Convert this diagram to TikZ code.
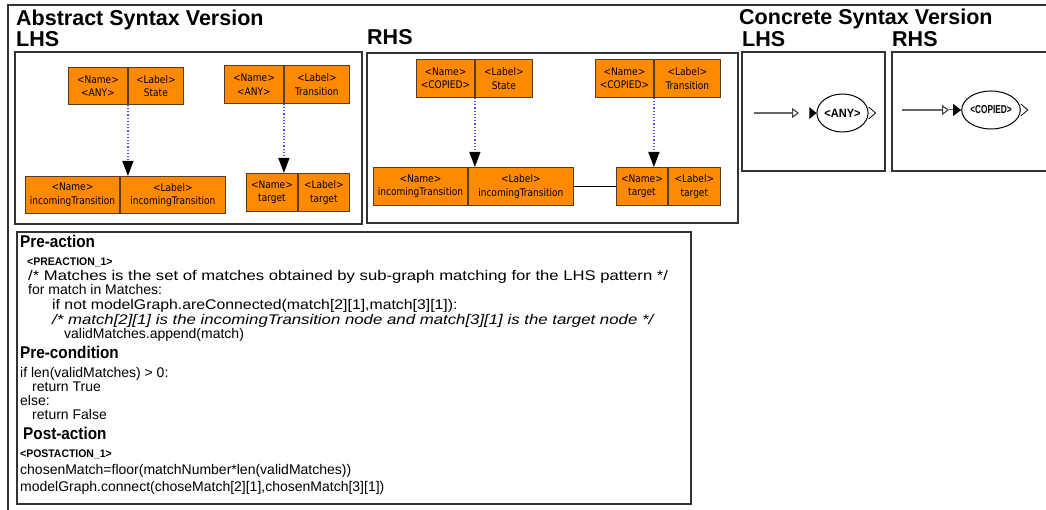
\documentclass[tikz,border=0pt]{standalone}
\usepackage{fontspec}
\setmainfont{Liberation Sans}
\newfontfamily\nodefont[FakeStretch=0.86]{DejaVu Sans}
\newfontfamily\narrowbold[FakeStretch=0.72]{Liberation Sans Bold}
\newfontfamily\anybold[FakeStretch=0.92]{Liberation Sans Bold}
\newfontfamily\headfont[FakeStretch=0.9]{Liberation Sans Bold}
\newfontfamily\tagfont[FakeStretch=0.95]{Liberation Sans Bold}
\usetikzlibrary{arrows.meta,shapes.geometric,calc}
\definecolor{orangeC}{HTML}{FF8A00}
\definecolor{edgeC}{HTML}{5A3A1A}
\definecolor{depC}{HTML}{5050E8}
\definecolor{purpC}{HTML}{7A30D0}
\newcommand{\sx}[2]{\scalebox{#1}[1]{#2}}
\tikzset{
  half/.style={draw=edgeC, fill=orangeC, line width=0.9pt, inner sep=1pt, align=center,
    anchor=north west, font=\nodefont\fontsize{10.5}{13.5}\selectfont},
  dep/.style={depC, dotted, line width=1.2pt,
    -{Triangle[length=15pt,width=11pt,color=black]}},
  frame/.style={draw=black!80, line width=1.1pt},
  title/.style={anchor=base west, inner sep=0, font=\bfseries\fontsize{21.5}{23}\selectfont},
  code/.style={anchor=base west, inner sep=0, font=\fontsize{14}{15}\selectfont},
  icode/.style={code, font=\itshape\fontsize{14}{15}\selectfont},
  head/.style={anchor=base west, inner sep=0, font=\headfont\fontsize{17}{18}\selectfont},
  tag/.style={anchor=base west, inner sep=0, font=\tagfont\fontsize{11}{12}\selectfont},
  csell/.style={ellipse, draw, line width=1pt, inner sep=0, minimum width=51pt, minimum height=38pt},
  csline/.style={black!60, line width=1.1pt, -{Triangle[open,length=7pt,width=10pt,color=black!75]}}
}
\begin{document}
\begin{tikzpicture}[x=1pt,y=-1pt]
\clip (0,0) rectangle (1046,510);
\fill[white] (0,0) rectangle (1046,510);
% outer frame
\draw[frame] (8,512) -- (8,5) -- (1050,5);
% titles
\node[title] (tabs) at (16,26) {Abstract Syntax Version};
\node[title] (tlhs) at (16,47) {LHS};
\node[title] (trhs) at (367,45) {RHS};
\node[title] (tcon) at (739,25) {Concrete Syntax Version};
\node[title] (tclhs) at (742,47) {LHS};
\node[title] (tcrhs) at (892,47) {RHS};
% boxes
\draw[frame] (15,52) rectangle (362,224);
\draw[frame] (367,53) rectangle (738,223);
\draw[frame] (742,52) rectangle (885,171);
\draw[frame] (892,52) rectangle (1060,171);
\draw[frame] (17,232) rectangle (691,504);
% LHS abstract
\node[half, minimum width=59pt, minimum height=37pt] (lsN) at (68,67) {<Name>\\<ANY>};
\node[half, minimum width=55pt, minimum height=37pt] (lsL) at (lsN.north east) {<Label>\\State};
\node[half, minimum width=59pt, minimum height=38pt] (ltN) at (224,65) {<Name>\\<ANY>};
\node[half, minimum width=65pt, minimum height=38pt] (ltL) at (ltN.north east) {<Label>\\Transition};
\node[half, minimum width=94pt, minimum height=37pt] (liN) at (25,176) {<Name>\\incomingTransition};
\node[half, minimum width=105pt, minimum height=37pt] (liL) at (liN.north east) {<Label>\\incomingTransition};
\node[half, minimum width=51pt, minimum height=38pt] (lgN) at (246,173) {<Name>\\target};
\node[half, minimum width=51pt, minimum height=38pt] (lgL) at (lgN.north east) {<Label>\\target};
\draw[dep] (lsN.south east) -- (lsN.south east |- liN.north);
\draw[dep] (ltN.south east) -- (ltN.south east |- lgN.north);
% RHS abstract
\node[half, minimum width=58pt, minimum height=38pt] (rsN) at (416,59) {<Name>\\<COPIED>};
\node[half, minimum width=57pt, minimum height=38pt] (rsL) at (rsN.north east) {<Label>\\State};
\node[half, minimum width=58pt, minimum height=38pt] (rtN) at (595,59) {<Name>\\<COPIED>};
\node[half, minimum width=66pt, minimum height=38pt] (rtL) at (rtN.north east) {<Label>\\Transition};
\node[half, minimum width=94pt, minimum height=38pt] (riN) at (373,167) {<Name>\\incomingTransition};
\node[half, minimum width=105pt, minimum height=38pt] (riL) at (riN.north east) {<Label>\\incomingTransition};
\node[half, minimum width=51pt, minimum height=38pt] (rgN) at (616,167) {<Name>\\target};
\node[half, minimum width=52pt, minimum height=38pt] (rgL) at (rgN.north east) {<Label>\\target};
\draw[dep] (rsN.south east) -- (rsN.south east |- riN.north);
\draw[dep] (rtN.south east) -- (rtN.south east |- rgN.north);
\draw[line width=0.9pt] (riL.east) -- (rgN.west);
% concrete LHS
\node[csell, font=\anybold\fontsize{12}{13}\selectfont] (anyE) at (842.5,113) {<ANY>};
\coordinate (c1s) at (754,113);
\coordinate (c1e) at (799,113);
\draw[csline] (c1s) -- (c1e);
\fill (anyE.west) -- ++(-7,-6) -- ++(0,12) -- cycle;
\draw[line width=0.8pt] ($(anyE.east)+(0,-6)$) -- ++(7,6) -- ++(-7,6);
% concrete RHS
\node[csell, font=\narrowbold\fontsize{11.5}{12}\selectfont] (copE) at (991,110) {<COPIED>};
\coordinate (c2s) at (902,110);
\coordinate (c2e) at (949,110);
\coordinate (c2t) at (958,110);
\draw[csline] (c2s) -- (c2e);
\draw[purpC, line width=1pt] (c2e) -- (c2t);
\fill (copE.west) -- ++(-8,-6) -- ++(0,12) -- cycle;
\draw[line width=0.8pt] ($(copE.east)+(0,-6)$) -- ++(7,6) -- ++(-7,6);
% code text
\node[head] (h1) at (20,248) {Pre-action};
\node[tag] (g1) at (27,266) {<PREACTION\_1>};
\node[code] (c1) at (28,281) {\sx{1.19}{/* Matches is the set of matches obtained by sub-graph matching for the LHS pattern */}};
\node[code] (c2) at (28,295) {for match in Matches:};
\node[code] (c3) at (52,309) {\sx{1.13}{if not modelGraph.areConnected(match[2][1],match[3][1]):}};
\node[icode] (c4) at (52,324) {\sx{1.2}{/* match[2][1] is the incomingTransition node and match[3][1] is the target node */}};
\node[code] (c5) at (64,338) {validMatches.append(match)};
\node[head] (h2) at (20,358) {Pre-condition};
\node[code] (c6) at (20,377) {if len(validMatches) > 0:};
\node[code] (c7) at (32,391) {return True};
\node[code] (c8) at (20,405) {else:};
\node[code] (c9) at (32,419) {return False};
\node[head] (h3) at (23,439) {Post-action};
\node[tag] (g2) at (20,457) {<POSTACTION\_1>};
\node[code] (c10) at (20,474) {chosenMatch=floor(matchNumber*len(validMatches))};
\node[code] (c11) at (20,491) {modelGraph.connect(choseMatch[2][1],chosenMatch[3][1])};
\end{tikzpicture}
\end{document}
